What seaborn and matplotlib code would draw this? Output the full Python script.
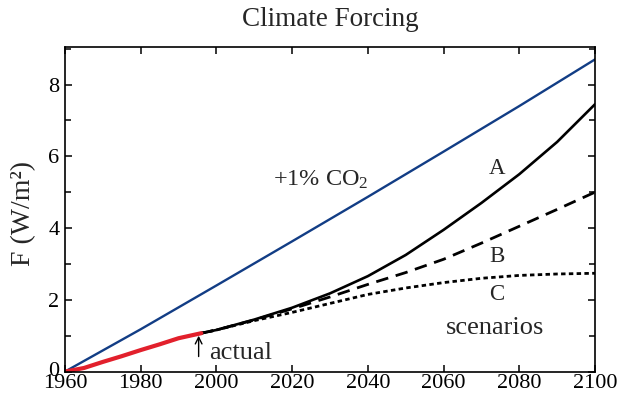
import matplotlib
matplotlib.use("Agg")
import matplotlib.pyplot as plt
import matplotlib.transforms as mtransforms
import seaborn as sns
import pandas as pd
from matplotlib.ticker import MultipleLocator

# ---- data ----
actual_years = [1960, 1965, 1970, 1975, 1980, 1985, 1990, 1996]
actual_vals = [0.0, 0.10, 0.27, 0.43, 0.60, 0.76, 0.93, 1.07]

co2_years = [1960, 1980, 2000, 2020, 2040, 2060, 2080, 2100]
co2_vals = [0.0, 1.18, 2.40, 3.63, 4.87, 6.13, 7.40, 8.70]

scen_years = [1996, 2000, 2010, 2020, 2030, 2040, 2050, 2060, 2070, 2080, 2090, 2100]
scen_A = [1.07, 1.16, 1.45, 1.78, 2.18, 2.66, 3.25, 3.95, 4.70, 5.50, 6.40, 7.45]
scen_B = [1.07, 1.16, 1.44, 1.75, 2.08, 2.43, 2.76, 3.13, 3.58, 4.05, 4.52, 5.00]
scen_C = [1.07, 1.16, 1.42, 1.65, 1.90, 2.15, 2.33, 2.48, 2.60, 2.68, 2.72, 2.74]

x_ticks = [1960, 1980, 2000, 2020, 2040, 2060, 2080, 2100]
y_ticks = [0, 2, 4, 6, 8]

sns.set_theme(style="ticks")
plt.rcParams["font.family"] = ["Liberation Serif", "DejaVu Serif"]
plt.rcParams["mathtext.fontset"] = "custom"
plt.rcParams["mathtext.rm"] = "Liberation Serif"
plt.rcParams["mathtext.it"] = "Liberation Serif:italic"
plt.rcParams["mathtext.default"] = "regular"

fig = plt.figure(figsize=(6.25, 3.97), dpi=100)
ax = fig.add_axes([0.104, 0.064, 0.848, 0.818])

df_co2 = pd.DataFrame({"year": co2_years, "F": co2_vals})
df_act = pd.DataFrame({"year": actual_years, "F": actual_vals})
df_A = pd.DataFrame({"year": scen_years, "F": scen_A})
df_B = pd.DataFrame({"year": scen_years, "F": scen_B})
df_C = pd.DataFrame({"year": scen_years, "F": scen_C})

sns.lineplot(data=df_co2, x="year", y="F", ax=ax, color="#123d85", lw=1.7)
sns.lineplot(data=df_C, x="year", y="F", ax=ax, color="black", lw=2.0,
             linestyle=(0, (1.6, 1.2)))
sns.lineplot(data=df_B, x="year", y="F", ax=ax, color="black", lw=2.0,
             linestyle=(0, (4.5, 2.8)))
sns.lineplot(data=df_A, x="year", y="F", ax=ax, color="black", lw=1.9)
sns.lineplot(data=df_act, x="year", y="F", ax=ax, color="#e2202c", lw=3.0)

ax.set_xlim(1960, 2100)
ax.set_ylim(0, 9.05)
ax.set_xticks(x_ticks)
ax.set_yticks(y_ticks)
ax.yaxis.set_minor_locator(MultipleLocator(1))
ax.set_xlabel("")
ax.set_ylabel("")
ax.tick_params(which="both", direction="in", top=True, right=True,
               labelsize=16, colors="black", width=1.1)
ax.tick_params(which="major", length=5, pad=2)
ax.tick_params(which="minor", length=4)
ax.tick_params(axis="y", which="major", pad=4)
for s in ax.spines.values():
    s.set_linewidth(1.2)
    s.set_color("black")

# nudge the "0" y tick label up a little, as in the reference
fig.canvas.draw()
ylabels = ax.get_yticklabels()
ylabels[0].set_transform(ylabels[0].get_transform() +
                         mtransforms.ScaledTranslation(0, 3 / 100, fig.dpi_scale_trans))

# text annotations
ax.text(2027.5, 5.35, "+1% CO$_2$", fontsize=17.5, ha="center", va="center")
ax.text(2074, 5.67, "A", fontsize=16.5, ha="center", va="center")
ax.text(2074, 3.2, "B", fontsize=16.5, ha="center", va="center")
ax.text(2074, 2.14, "C", fontsize=16.5, ha="center", va="center")
ax.text(2073.5, 1.22, "scenarios", fontsize=19, ha="center", va="center")
ax.text(1998, 0.52, "actual", fontsize=19, ha="left", va="center")
ax.annotate("", xy=(1995.3, 1.0), xytext=(1995.3, 0.42),
            arrowprops=dict(arrowstyle="->", lw=1.0, color="black",
                            shrinkA=0, shrinkB=0))

fig.text(0.528, 1 - 20 / 397, "Climate Forcing", fontsize=19.5,
         ha="center", va="center")
fig.text(24 / 625, 1 - 213 / 397, "F (W/m²)", fontsize=20, rotation=90,
         ha="center", va="center")

fig.savefig("out.png", dpi=100)
